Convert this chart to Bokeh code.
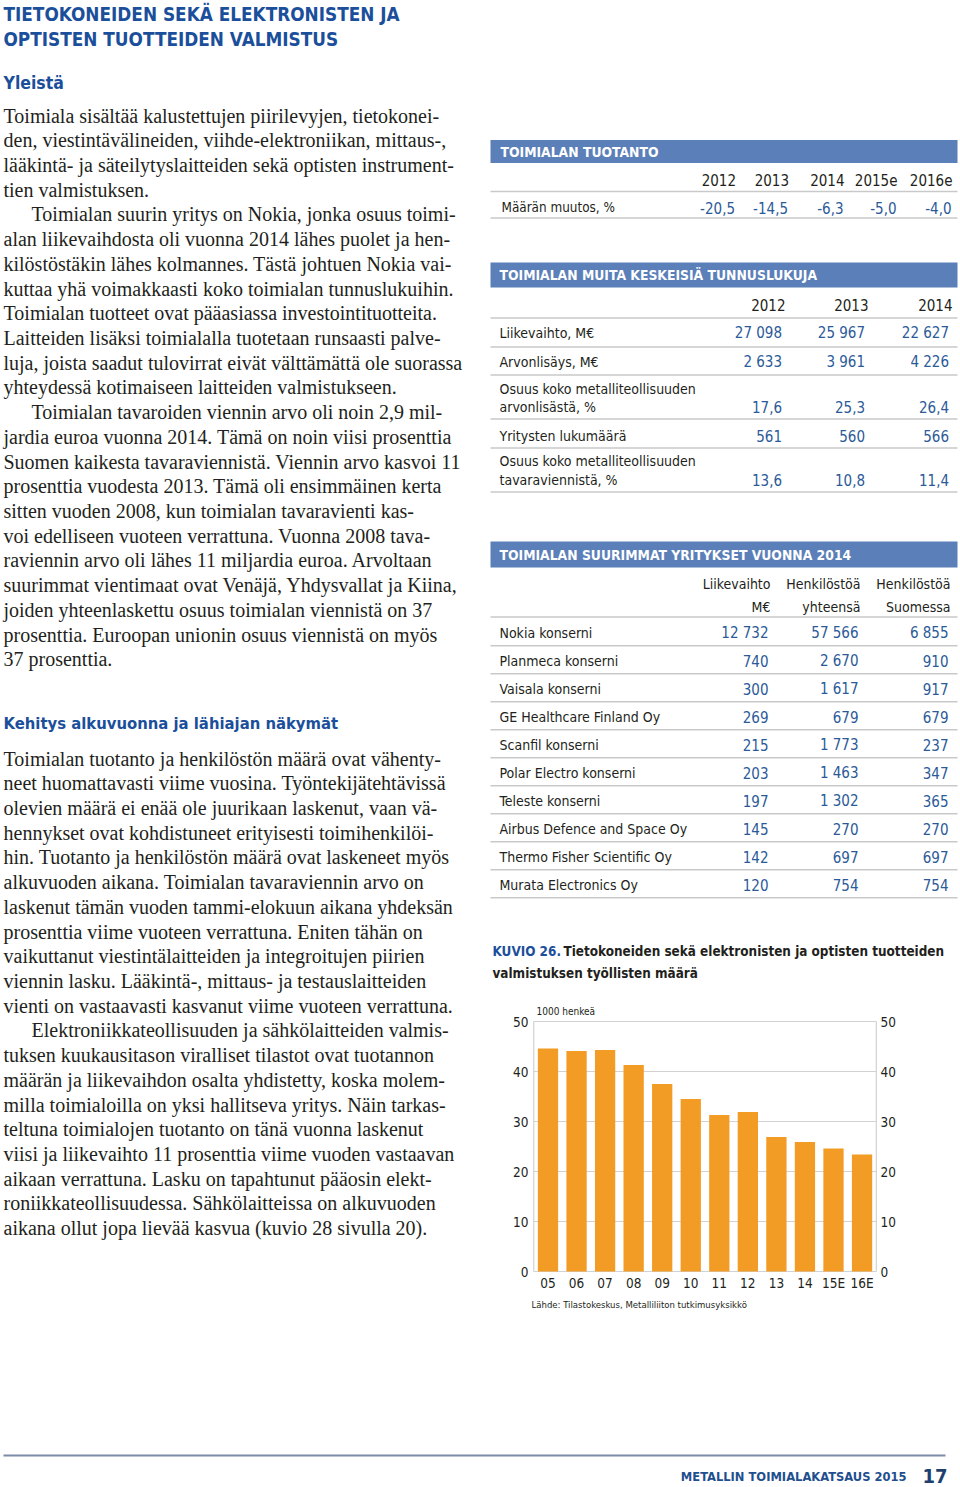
from bokeh.plotting import figure
from bokeh.models import Range1d, ColumnDataSource
from bokeh.core.properties import value
from bokeh.embed import file_html
from bokeh.resources import INLINE

# ---------------- data ----------------
title_lines = ["TIETOKONEIDEN SEKÄ ELEKTRONISTEN JA", "OPTISTEN TUOTTEIDEN VALMISTUS"]
head1 = "Yleistä"
sec1_paragraphs = [
    ["Toimiala sisältää kalustettujen piirilevyjen, tietokonei-",
     "den, viestintävälineiden, viihde-elektroniikan, mittaus-,",
     "lääkintä- ja säteilytyslaitteiden sekä optisten instrument-",
     "tien valmistuksen."],
    ["Toimialan suurin yritys on Nokia, jonka osuus toimi-",
     "alan liikevaihdosta oli vuonna 2014 lähes puolet ja hen-",
     "kilöstöstäkin lähes kolmannes. Tästä johtuen Nokia vai-",
     "kuttaa yhä voimakkaasti koko toimialan tunnuslukuihin.",
     "Toimialan tuotteet ovat pääasiassa investointituotteita.",
     "Laitteiden lisäksi toimialalla tuotetaan runsaasti palve-",
     "luja, joista saadut tulovirrat eivät välttämättä ole suorassa",
     "yhteydessä kotimaiseen laitteiden valmistukseen."],
    ["Toimialan tavaroiden viennin arvo oli noin 2,9 mil-",
     "jardia euroa vuonna 2014. Tämä on noin viisi prosenttia",
     "Suomen kaikesta tavaraviennistä. Viennin arvo kasvoi 11",
     "prosenttia vuodesta 2013. Tämä oli ensimmäinen kerta",
     "sitten vuoden 2008, kun toimialan tavaravienti kas-",
     "voi edelliseen vuoteen verrattuna. Vuonna 2008 tava-",
     "raviennin arvo oli lähes 11 miljardia euroa. Arvoltaan",
     "suurimmat vientimaat ovat Venäjä, Yhdysvallat ja Kiina,",
     "joiden yhteenlaskettu osuus toimialan viennistä on 37",
     "prosenttia. Euroopan unionin osuus viennistä on myös",
     "37 prosenttia."],
]
head2 = "Kehitys alkuvuonna ja lähiajan näkymät"
sec2_paragraphs = [
    ["Toimialan tuotanto ja henkilöstön määrä ovat vähenty-",
     "neet huomattavasti viime vuosina. Työntekijätehtävissä",
     "olevien määrä ei enää ole juurikaan laskenut, vaan vä-",
     "hennykset ovat kohdistuneet erityisesti toimihenkilöi-",
     "hin. Tuotanto ja henkilöstön määrä ovat laskeneet myös",
     "alkuvuoden aikana. Toimialan tavaraviennin arvo on",
     "laskenut tämän vuoden tammi-elokuun aikana yhdeksän",
     "prosenttia viime vuoteen verrattuna. Eniten tähän on",
     "vaikuttanut viestintälaitteiden ja integroitujen piirien",
     "viennin lasku. Lääkintä-, mittaus- ja testauslaitteiden",
     "vienti on vastaavasti kasvanut viime vuoteen verrattuna."],
    ["Elektroniikkateollisuuden ja sähkölaitteiden valmis-",
     "tuksen kuukausitason viralliset tilastot ovat tuotannon",
     "määrän ja liikevaihdon osalta yhdistetty, koska molem-",
     "milla toimialoilla on yksi hallitseva yritys. Näin tarkas-",
     "teltuna toimialojen tuotanto on tänä vuonna laskenut",
     "viisi ja liikevaihto 11 prosenttia viime vuoden vastaavan",
     "aikaan verrattuna. Lasku on tapahtunut pääosin elekt-",
     "roniikkateollisuudessa. Sähkölaitteissa on alkuvuoden",
     "aikana ollut jopa lievää kasvua (kuvio 28 sivulla 20)."],
]

prod_title = "TOIMIALAN TUOTANTO"
prod_years = ["2012", "2013", "2014", "2015e", "2016e"]
prod_label = "Määrän muutos, %"
prod_change = [-20.5, -14.5, -6.3, -5.0, -4.0]

key_title = "TOIMIALAN MUITA KESKEISIÄ TUNNUSLUKUJA"
key_years = ["2012", "2013", "2014"]
key_labels = [["Liikevaihto, M€"], ["Arvonlisäys, M€"],
              ["Osuus koko metalliteollisuuden", "arvonlisästä, %"],
              ["Yritysten lukumäärä"],
              ["Osuus koko metalliteollisuuden", "tavaraviennistä, %"]]
key_turnover = [27098, 25967, 22627]
key_value_added = [2633, 3961, 4226]
key_share_va = [17.6, 25.3, 26.4]
key_firms = [561, 560, 566]
key_share_exp = [13.6, 10.8, 11.4]

comp_title = "TOIMIALAN SUURIMMAT YRITYKSET VUONNA 2014"
comp_headers = [["Liikevaihto", "M€"], ["Henkilöstöä", "yhteensä"], ["Henkilöstöä", "Suomessa"]]
companies = ["Nokia konserni", "Planmeca konserni", "Vaisala konserni", "GE Healthcare Finland Oy",
             "Scanfil konserni", "Polar Electro konserni", "Teleste konserni",
             "Airbus Defence and Space Oy", "Thermo Fisher Scientific Oy", "Murata Electronics Oy"]
comp_revenue = [12732, 740, 300, 269, 215, 203, 197, 145, 142, 120]
comp_staff_total = [57566, 2670, 1617, 679, 1773, 1463, 1302, 270, 697, 754]
comp_staff_fi = [6855, 910, 917, 679, 237, 347, 365, 270, 697, 754]

fig_label = "KUVIO 26."
fig_title = ["Tietokoneiden sekä elektronisten ja optisten tuotteiden", "valmistuksen työllisten määrä"]
chart_unit = "1000 henkeä"
chart_years = ["05", "06", "07", "08", "09", "10", "11", "12", "13", "14", "15E", "16E"]
chart_employees = [44.6, 44.1, 44.3, 41.3, 37.5, 34.5, 31.3, 31.9, 26.9, 25.9, 24.6, 23.4]
chart_ticks = [0, 10, 20, 30, 40, 50]
chart_source = "Lähde: Tilastokeskus, Metalliliiton tutkimusyksikkö"

footer_text = "METALLIN TOIMIALAKATSAUS  2015"
page_number = "17"

# ---------------- styles ----------------
SERIF = "Liberation Serif"
NARROW = "'DejaVu Sans Condensed', 'Roboto Condensed', Roboto, sans-serif"
BLUE_T = "#1b4f9b"
BLUE_V = "#2b5a98"
BAR_BLUE = "#5b7fb8"
INK = "#231f20"
RULE = "#c9c9c9"
ORANGE = "#f29b25"
GRID = "#d2d2d2"

def fint(n):
    return f"{n:,}".replace(",", " ")

def fdec(v):
    return f"{v:.1f}".replace(".", ",")

W, H = 960, 1487
p = figure(width=W, height=H, x_range=Range1d(0, 960), y_range=Range1d(1487, 0),
           output_backend="svg", toolbar_location=None, min_border=0,
           x_axis_type=None, y_axis_type=None)
p.grid.visible = False
p.outline_line_color = None
p.background_fill_color = "white"
p.border_fill_color = "white"

T = dict(x=[], y=[], text=[], size=[], color=[], font=[], style=[], align=[])

def put(x, y, s, size, color=INK, font=NARROW, style="normal", align="left"):
    T["x"].append(x); T["y"].append(y); T["text"].append(s)
    T["size"].append(f"{size}px"); T["color"].append(color); T["font"].append(font)
    T["style"].append(style); T["align"].append(align)

# ---- left column ----
put(3, 14, title_lines[0], 18.8, BLUE_T, NARROW, "bold")
put(3, 39, title_lines[1], 18.8, BLUE_T, NARROW, "bold")
put(3, 82, head1, 17.5, BLUE_T, NARROW, "bold")

PITCH = 24.72
def paragraphs(pars, y0):
    y = y0
    for k, par in enumerate(pars):
        for j, line in enumerate(par):
            x = 31 if (k > 0 and j == 0) else 3
            put(x, y, line, 20, INK, SERIF)
            y += PITCH
paragraphs(sec1_paragraphs, 115)
put(3, 723, head2, 16.5, BLUE_T, NARROW, "bold")
paragraphs(sec2_paragraphs, 758)

# ---- table 1 ----
TX0, TX1 = 490, 957
p.quad(left=[TX0], right=[TX1], top=[139.5], bottom=[162.5], fill_color=BAR_BLUE, line_color=None)
put(500, 151, prod_title, 13.8, "white", NARROW, "bold")
prod_cols = [735.5, 788.5, 844, 897, 952]
for xr, yr in zip(prod_cols, prod_years):
    put(xr, 179, yr, 15, INK, NARROW, "normal", "right")
put(501, 207, prod_label, 13.4, INK)
for xr, v in zip(prod_cols, prod_change):
    put(xr - 1, 207, fdec(v), 15, BLUE_V, NARROW, "normal", "right")
rules = [191, 217.5]

# ---- table 2 ----
p.quad(left=[TX0], right=[TX1], top=[262], bottom=[287], fill_color=BAR_BLUE, line_color=None)
put(499, 274.5, key_title, 13.8, "white", NARROW, "bold")
key_cols = [785, 868, 952]
for xr, yr in zip(key_cols, key_years):
    put(xr, 304, yr, 15, INK, NARROW, "normal", "right")
key_rows = [key_turnover, key_value_added, key_share_va, key_firms, key_share_exp]
key_fmt = [fint, fint, fdec, fint, fdec]
key_y = [332.5, 361, 406.5, 435, 479]
rules += [317.5]
key_rules = [346.5, 374.5, 418.5, 447.5, 491.5]
for lab, row, f, yv, yl in zip(key_labels, key_rows, key_fmt, key_y, key_rules):
    if len(lab) == 2:
        put(499, yv - 18.5, lab[0], 14, INK)
        put(499, yv, lab[1], 14, INK)
    else:
        put(499, yv, lab[0], 14, INK)
    for xr, v in zip(key_cols, row):
        put(xr - 3.5, yv, f(v), 15, BLUE_V, NARROW, "normal", "right")
rules += key_rules

# ---- table 3 ----
p.quad(left=[TX0], right=[TX1], top=[541], bottom=[567], fill_color=BAR_BLUE, line_color=None)
put(499, 554.5, comp_title, 13.8, "white", NARROW, "bold")
comp_cols = [770, 860, 950]
for xr, hd in zip(comp_cols, comp_headers):
    put(xr, 583.5, hd[0], 14, INK, NARROW, "normal", "right")
    put(xr, 606, hd[1], 14, INK, NARROW, "normal", "right")
rules += [616.5]
for i, name in enumerate(companies):
    yv = 632 + 28 * i
    put(499, yv, name, 14, INK)
    for xr, col in zip(comp_cols, [comp_revenue, comp_staff_total, comp_staff_fi]):
        put(xr - 2, yv, fint(col[i]), 15, BLUE_V, NARROW, "normal", "right")
    rules.append(yv + 13.3)

p.segment(x0=[TX0] * len(rules), x1=[TX1] * len(rules), y0=rules, y1=rules,
          line_color=RULE, line_width=1.6)

# ---- caption ----
put(492, 951, fig_label, 13.4, BLUE_T, NARROW, "bold")
put(563, 951, fig_title[0], 13.4, INK, NARROW, "bold")
put(492, 972.5, fig_title[1], 13.4, INK, NARROW, "bold")

# ---- chart (own scales mapped into the page) ----
CX0, CDX = 547.5, 28.55    # pixel centre of first bar, spacing
CY0, CDY = 1271.0, 5.0     # pixel of zero line, pixels per unit
p.extra_x_ranges = {"cx": Range1d(start=(0 - CX0) / CDX, end=(960 - CX0) / CDX)}
p.extra_y_ranges = {"cy": Range1d(start=(CY0 - 1487) / CDY, end=(CY0 - 0) / CDY)}
idx = list(range(len(chart_years)))
lo, hi = -0.5, len(chart_years) - 0.5
top = max(chart_ticks)
p.segment(x0=[lo] * len(chart_ticks), x1=[hi] * len(chart_ticks), y0=chart_ticks, y1=chart_ticks,
          line_color=GRID, line_width=1.2, x_range_name="cx", y_range_name="cy")
p.segment(x0=[lo, hi], x1=[lo, hi], y0=[0, 0], y1=[top, top],
          line_color=GRID, line_width=1.2, x_range_name="cx", y_range_name="cy")
p.vbar(x=idx, top=chart_employees, bottom=0, width=0.71, fill_color=ORANGE, line_color=None,
       x_range_name="cx", y_range_name="cy")

tick_txt = [str(t) for t in chart_ticks]
p.text(x=[528] * len(chart_ticks), y=chart_ticks, text=tick_txt, y_range_name="cy",
       text_font=value(NARROW), text_font_size="13.5px", text_color=INK,
       text_align="right", text_baseline="middle")
p.text(x=[880] * len(chart_ticks), y=chart_ticks, text=tick_txt, y_range_name="cy",
       text_font=value(NARROW), text_font_size="13.5px", text_color=INK,
       text_align="left", text_baseline="middle")
p.text(x=idx, y=[1282] * len(idx), text=chart_years, x_range_name="cx",
       text_font=value(NARROW), text_font_size="13.5px", text_color=INK,
       text_align="center", text_baseline="middle")
put(536, 1011, chart_unit, 10, INK, NARROW)
put(531, 1304, chart_source, 9.5, INK, NARROW)

# ---- footer ----
p.segment(x0=[3], x1=[945], y0=[1455], y1=[1455], line_color="#7d8ca6", line_width=2)
put(910, 1476, footer_text, 12.8, "#1f4f8f", NARROW, "bold", "right")
put(947, 1475, page_number, 20, "#1f3f70", NARROW, "bold", "right")

src = ColumnDataSource(T)
p.text(x="x", y="y", text="text", source=src, text_font_size="size", text_color="color",
       text_font="font", text_font_style="style", text_align="align", text_baseline="middle")

open("out.html", "w").write(file_html(p, INLINE))
